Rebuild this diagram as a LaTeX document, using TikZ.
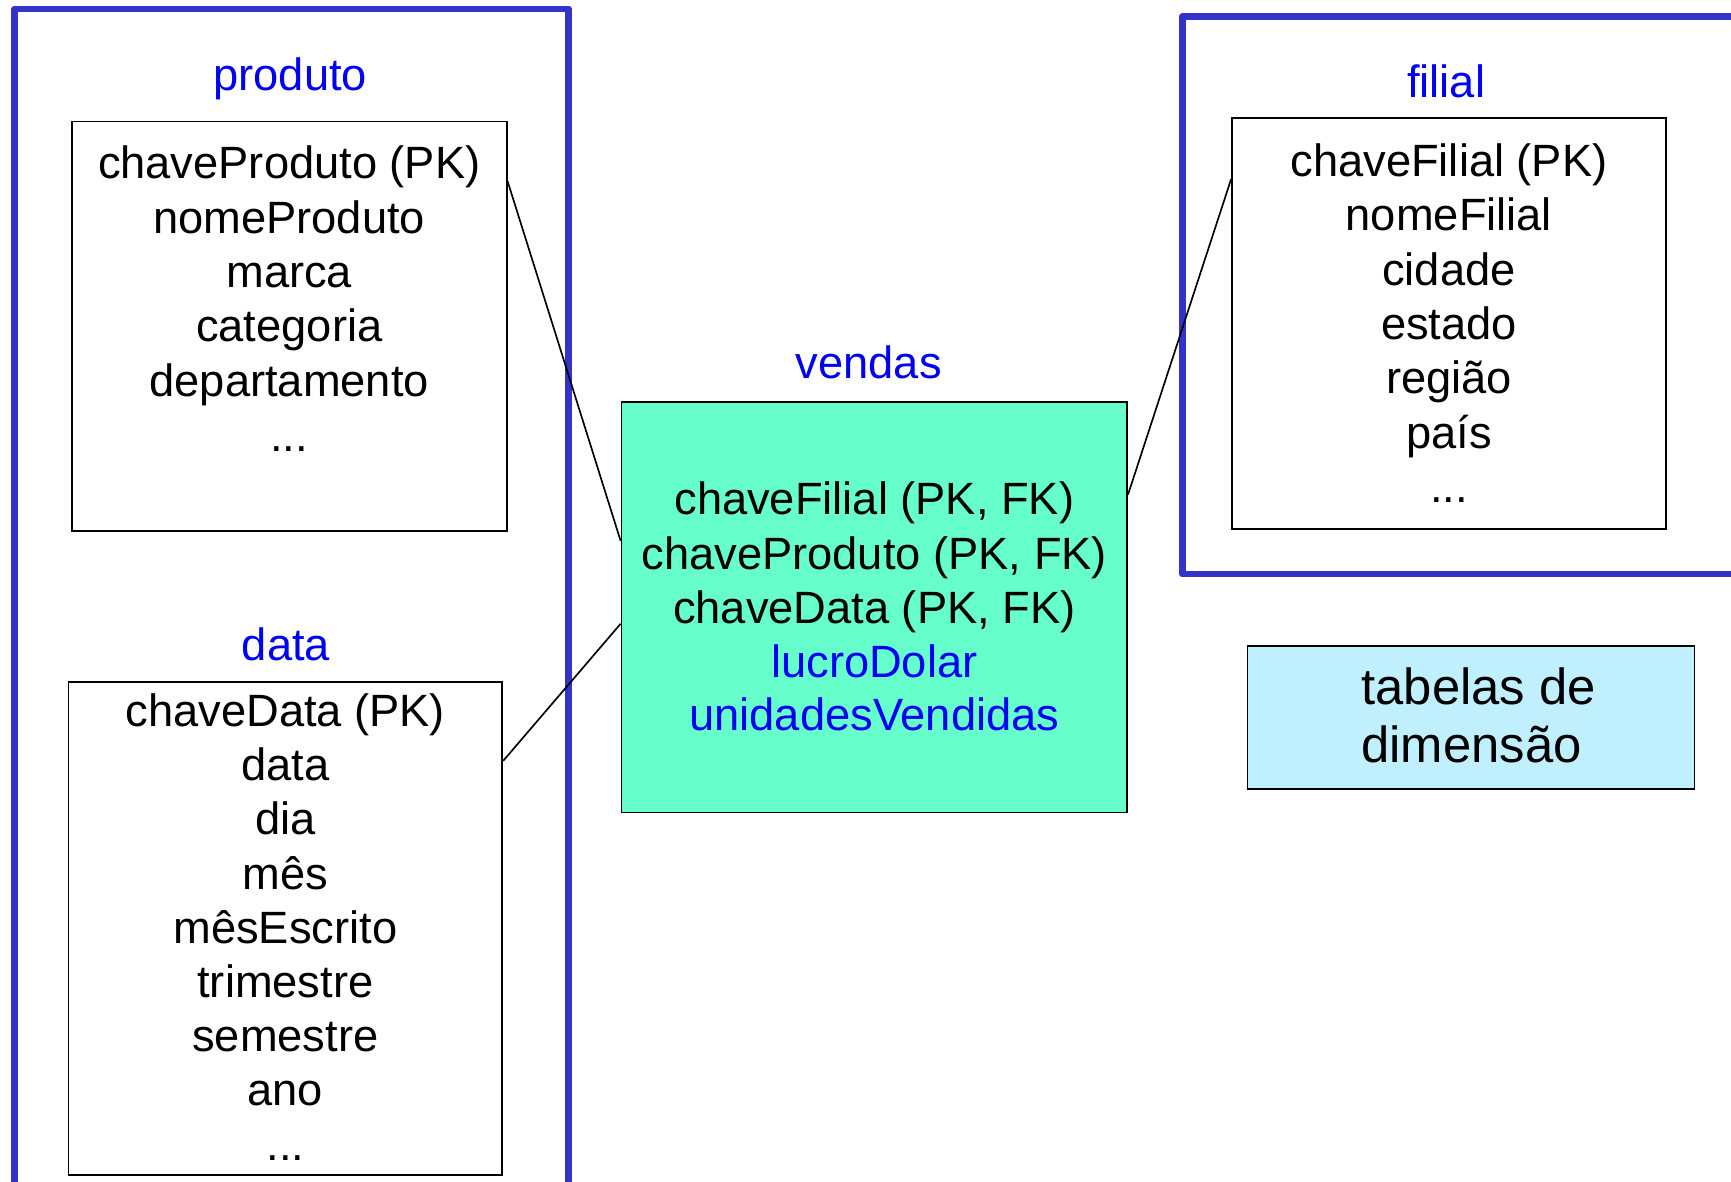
\documentclass[tikz,border=0pt]{standalone}
\usepackage{fontspec}
\setmainfont{Liberation Sans}[Ligatures=NoCommon]
\definecolor{frameblue}{RGB}{51,51,204}
\definecolor{labelblue}{RGB}{0,0,245}
\definecolor{factfill}{RGB}{102,255,204}
\definecolor{legfill}{RGB}{192,240,254}
\begin{document}
\begin{tikzpicture}[x=1pt,y=-1pt,
  frame/.style={draw=frameblue,line width=6pt,line join=round},
  tbox/.style={draw=black,line width=1.6pt,rectangle,inner sep=0pt},
  txt/.style={anchor=base,inner sep=0pt,font=\fontsize{41}{49}\selectfont},
  lbl/.style={txt,text=labelblue},
  conn/.style={draw=black,line width=1.5pt}]
\useasboundingbox (0,0) rectangle (1568,1070);
\clip (0,0) rectangle (1568,1070);
\fill[white] (0,0) rectangle (1568,1070);
% group frames
\draw[frame] (13,8) rectangle (515,1100);
\draw[frame] (1071,15) rectangle (1620,520);
% boxes
\node[tbox,minimum width=394pt,minimum height=371pt] (produto) at (262,295.5) {};
\node[tbox,minimum width=393pt,minimum height=446pt] (data) at (258.5,841) {};
\node[tbox,fill=factfill,minimum width=458pt,minimum height=372pt] (vendas) at (792,550) {};
\node[tbox,minimum width=393pt,minimum height=372pt] (filial) at (1312.5,293) {};
\node[tbox,fill=legfill,minimum width=405pt,minimum height=130pt] (legenda) at (1332.5,650) {};
% titles
\node[lbl] (tprod) at (263,82) {produto};
\node[lbl] (tdata) at (259,598) {data};
\node[lbl] (tvend) at (787,343) {vendas};
\node[lbl] (tfil) at (1310,88) {filial};
% produto attributes
\foreach \t [count=\i from 0] in {chaveProduto (PK),nomeProduto,marca,categoria,departamento}
  \node[txt] (pa\i) at (262,{162+49.2*\i}) {\t};
\node[txt] (pdots) at (262,409) {...};
% data attributes
\foreach \t [count=\i from 0] in {chaveData (PK),data,dia,mês,mêsEscrito,trimestre,semestre,ano}
  \node[txt] (da\i) at (258.5,{658+49.1*\i}) {\t};
\node[txt] (ddots) at (258.5,1051) {...};
% filial attributes
\foreach \t [count=\i from 0] in {chaveFilial (PK),nomeFilial,cidade,estado,região,país}
  \node[txt] (fa\i) at (1312.5,{160+49.2*\i}) {\t};
\node[txt] (fdots) at (1312.5,455) {...};
% vendas attributes
\node[txt] (va0) at (792,466) {chaveFilial (PK, FK)};
\node[txt] (va1) at (792,515.5) {chaveProduto (PK, FK)};
\node[txt] (va2) at (792,565) {chaveData (PK, FK)};
\node[txt,text=labelblue] (va3) at (792,613.5) {lucroDolar};
\node[txt,text=labelblue] (va4) at (792,662) {unidadesVendidas};
% legend
\node[txt,anchor=base west,font=\fontsize{46}{53}\selectfont] (leg1) at (1233,638) {tabelas de};
\node[txt,anchor=base west,font=\fontsize{46}{53}\selectfont] (leg2) at (1233,691) {dimensão};
% connectors
\draw[conn] ([yshift=-55pt]produto.north east) -- ([yshift=60pt]vendas.west);
\draw[conn] ([yshift=-72pt]data.north east) -- ([yshift=-15pt]vendas.west);
\draw[conn] ([yshift=102pt]vendas.east) -- ([yshift=-56pt]filial.north west);
\end{tikzpicture}
\end{document}
